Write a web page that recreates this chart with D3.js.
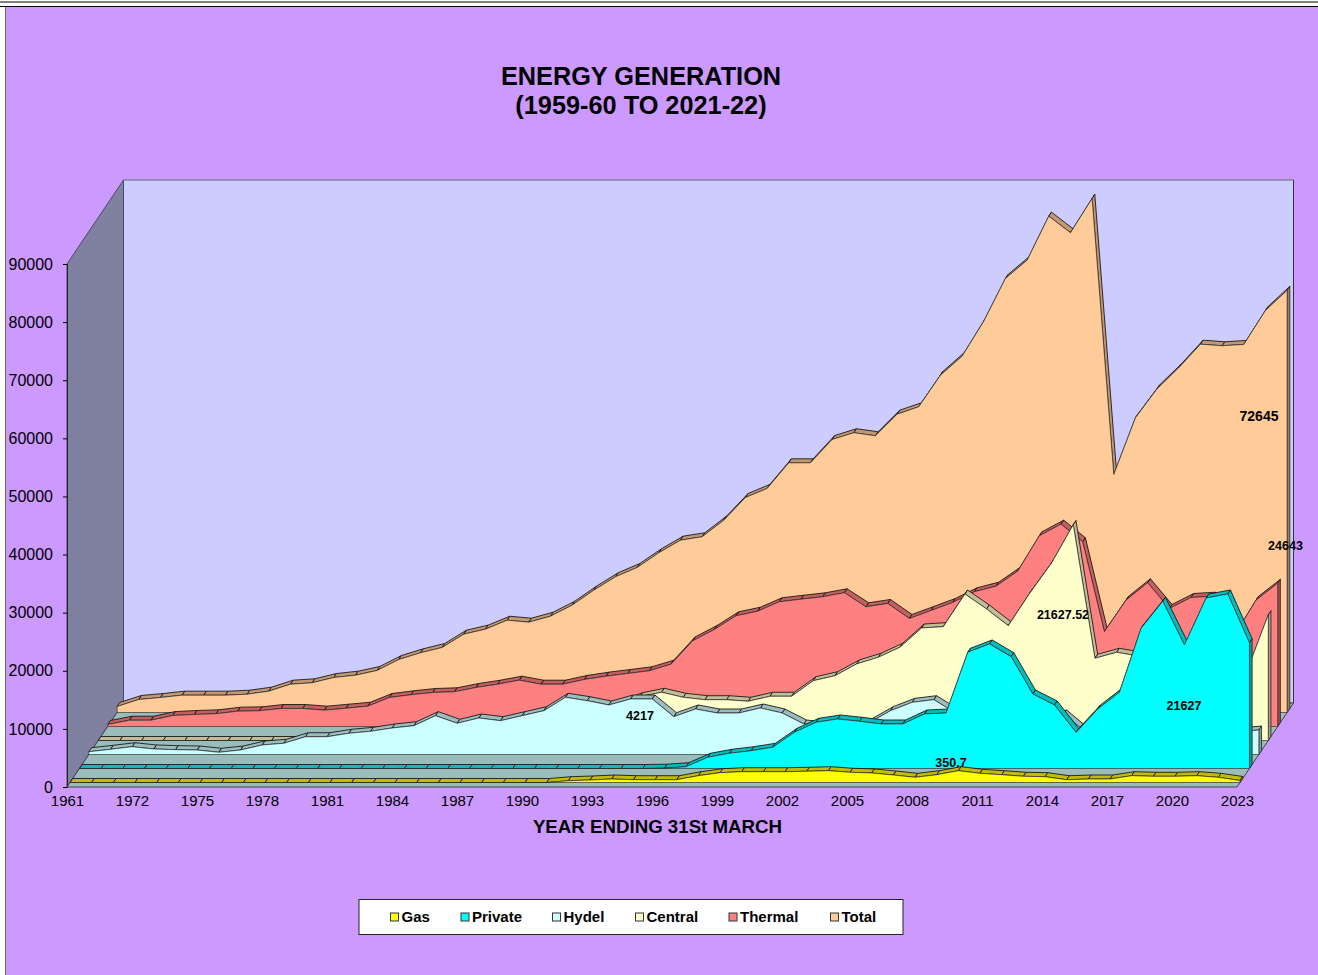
<!DOCTYPE html>
<html>
<head>
<meta charset="utf-8">
<style>
html,body{margin:0;padding:0;background:#fff;overflow:hidden}
svg{display:block}
text{font-family:"Liberation Sans",Arial,sans-serif;fill:#000}
</style>
<script src="https://cdnjs.cloudflare.com/ajax/libs/d3/7.8.5/d3.min.js"></script>
</head>
<body>
<svg id="c" width="1318" height="975"></svg>
<script>
const years = [1961,1970,1971,1972,1973,1974,1975,1976,1977,1978,1979,1980,1981,1982,1983,1984,1985,1986,1987,1988,1989,1990,1991,1992,1993,1994,1995,1996,1997,1998,1999,2000,2001,2002,2003,2004,2005,2006,2007,2008,2009,2010,2011,2012,2013,2014,2015,2016,2017,2018,2019,2020,2021,2022,2023];
const yearTicks = [1961,1972,1975,1978,1981,1984,1987,1990,1993,1996,1999,2002,2005,2008,2011,2014,2017,2020,2023];
const valueTicks = [0,10000,20000,30000,40000,50000,60000,70000,80000,90000];

const gas = [0,0,0,0,0,0,0,0,0,0,0,0,0,0,0,0,0,0,0,0,0,0,0,310,430,600,480,480,480,1170,1690,1860,1860,1860,1930,2030,1760,1640,1290,890,1340,2030,1580,1340,1070,1000,480,600,600,1170,1070,1070,1170,890,350.7];
const privateGen = [0,0,0,0,0,0,0,0,0,0,0,0,0,0,0,0,0,0,0,0,0,0,0,0,0,0,0,50,310,1930,2620,3060,3650,6230,7950,8520,8120,7660,7660,9380,9550,20000,21430,19240,12820,10930,6200,10240,13110,24130,28780,21250,29340,30030,21627];
const hydel = [480,890,1340,950,830,770,380,770,1640,1930,3060,3060,3650,3990,4560,4960,6680,5370,6280,5820,6680,7540,9840,9260,8520,9550,9550,6510,7830,7140,7140,8000,7140,5250,4800,4600,5420,7540,8980,9430,7140,6500,6300,6000,5800,6970,3870,3500,3600,3800,3900,4000,4100,3870,4217];
const central = [0,0,0,0,0,0,0,0,0,0,0,0,0,0,0,0,0,0,0,0,0,0,0,0,6100,7540,8300,7430,7020,7020,6750,7610,7610,10290,11150,13170,14320,16040,19360,19590,25210,22630,19760,25390,30550,37140,14150,15180,14540,13000,12500,11500,11000,11790,21627.52];
const thermal = [340,1080,1080,1890,2070,2190,2630,2700,3100,3100,2810,3150,3490,4990,5460,5850,5970,6710,7280,7970,7280,7280,8090,8660,9120,9590,10720,14750,16690,19050,19840,21460,21910,22320,23010,20600,21170,18590,19960,21340,23180,24150,26730,32820,34820,31790,16300,21740,24730,20310,22200,22420,15660,21740,24643];
const total = [1030,2240,2580,2980,2980,2980,3150,3670,4870,5110,6020,6420,7230,9120,10270,11190,13480,14340,15880,15540,16570,18470,21050,23350,24950,27480,29650,30240,33090,37000,38550,42970,42970,46980,48140,47620,51340,52610,58050,61320,67340,74690,77840,85410,82560,88460,40960,50720,55710,59320,63380,63110,63330,69180,72645];

const seriesNames = ["Gas","Private","Hydel","Central","Thermal","Total"];
const seriesValues = [gas,privateGen,hydel,central,thermal,total];
const seriesColors = ["#FFFF00","#00FFFF","#CCFFFF","#FFFFCC","#FF8080","#FFCC99"];
const pointLabels = ["350.7","21627","4217","21627.52","24643","72645"];
const titleLines = ["ENERGY GENERATION","(1959-60 TO 2021-22)"];
const xTitle = "YEAR ENDING 31St MARCH";

const svg = d3.select("#c");
const x = d3.scalePoint().domain(years).range([67,1237]);
const y = d3.scaleLinear().domain([0,90000]).range([787,264]);
const DX = 56.5, DY = 84;               // full floor depth
const off = d => [d*DX/DY, -d];         // depth projection
const P = (yr,v,d) => [x(yr)+off(d)[0], y(v)+off(d)[1]];
const line = d3.line();
const poly = p => line(p)+"Z";

// page frame
svg.append("rect").attr("x",6).attr("y",7).attr("width",1320).attr("height",975).attr("fill","#CC99FF");
svg.append("line").attr("x1",5.5).attr("x2",5.5).attr("y1",7).attr("y2",975).attr("stroke","#666").attr("stroke-width",1);
svg.append("line").attr("x1",0).attr("x2",1318).attr("y1",2).attr("y2",2).attr("stroke","#000").attr("stroke-width",1);
svg.append("line").attr("x1",0).attr("x2",1318).attr("y1",6.5).attr("y2",6.5).attr("stroke","#000").attr("stroke-width",1.2);

// walls and floor
const [x0,x1] = x.range(), yb = y(0), yt = y(90000);
svg.append("path").attr("d",poly([[x0+DX,yt-DY],[x1+DX,yt-DY],[x1+DX,yb-DY],[x0+DX,yb-DY]]))
   .attr("fill","#CCCCFF").attr("stroke","#666").attr("stroke-width",1);
svg.append("line").attr("x1",x1+DX).attr("x2",x1+DX).attr("y1",yt-DY).attr("y2",yb-DY).attr("stroke","#333").attr("stroke-width",1);
svg.append("path").attr("d",poly([[x0,yt],[x0+DX,yt-DY],[x0+DX,yb-DY],[x0,yb]]))
   .attr("fill","#8080A0").attr("stroke","#4a4a66").attr("stroke-width",1);
svg.append("path").attr("d",poly([[x0,yb],[x0+DX,yb-DY],[x1+DX,yb-DY],[x1,yb]]))
   .attr("fill","#9ABCBB").attr("stroke","#444").attr("stroke-width",1);

// series, back to front
const darken = c => { const r=d3.rgb(c); return d3.rgb(r.r*.76,r.g*.74,r.b*.74).formatHex(); };
const order = d3.range(seriesNames.length).reverse();
order.forEach(i=>{
  const vals = seriesValues[i], d1 = 4.5+14*i, d2 = d1+4;
  const g = svg.append("g").attr("class","series-"+seriesNames[i]);
  const rib = darken(seriesColors[i]);
  g.selectAll("path.rib").data(d3.pairs(d3.range(years.length))).join("path").attr("class","rib")
    .attr("d",([a,b])=>poly([P(years[a],vals[a],d1),P(years[b],vals[b],d1),P(years[b],vals[b],d2),P(years[a],vals[a],d2)]))
    .attr("fill",rib).attr("stroke","#111").attr("stroke-width",.85).attr("stroke-linejoin","round");
  const last = years.length-1;
  g.append("path").attr("d",poly([P(years[last],vals[last],d1),P(years[last],vals[last],d2),P(years[last],0,d2),P(years[last],0,d1)]))
    .attr("fill",d3.rgb(rib).darker(.5)).attr("stroke","#222").attr("stroke-width",.8);
  const top = years.map((yr,k)=>P(yr,vals[k],d1));
  g.append("path").attr("d",poly([...top,P(years[last],0,d1),P(years[0],0,d1)]))
    .attr("fill",seriesColors[i]).attr("stroke","#333").attr("stroke-width",.7).attr("stroke-linejoin","round");
});

// axes
const yAxis = d3.axisLeft(y).tickValues(valueTicks).tickFormat(d3.format("d")).tickSize(4).tickPadding(10);
const gy = svg.append("g").attr("transform",`translate(${x0},0)`).call(yAxis);
gy.select(".domain").attr("stroke","#222");
gy.selectAll("line").attr("stroke","#000");
gy.selectAll("text").style("font-size","16px");
const xAxis = d3.axisBottom(x).tickValues(yearTicks).tickFormat(d3.format("d")).tickSize(0).tickPadding(8);
const gx = svg.append("g").attr("transform",`translate(0,${yb})`).call(xAxis);
gx.select(".domain").remove();
gx.selectAll("text").style("font-size","15px");

// titles
svg.selectAll("text.title").data(titleLines).join("text").attr("class","title")
  .attr("x",641).attr("y",(d,i)=>85+i*29).attr("text-anchor","middle")
  .style("font-size","25.3px").style("font-weight","bold").text(d=>d);
svg.append("text").attr("x",657.5).attr("y",833).attr("text-anchor","middle")
  .style("font-size","18.7px").style("font-weight","bold").text(xTitle);

// data labels
const labelAt = [[951,767],[1184,709.5],[640,719.5],[1063,618.5],[1285.5,549.5],[1259,421]];
const labelSize = [12.5,12.5,12.5,12.5,12.5,14];
svg.selectAll("text.dl").data(pointLabels).join("text").attr("class","dl")
  .attr("x",(d,i)=>labelAt[i][0]).attr("y",(d,i)=>labelAt[i][1]).attr("text-anchor","middle")
  .style("font-size",(d,i)=>labelSize[i]+"px").style("font-weight","bold").text(d=>d);

// legend
svg.append("rect").attr("x",359).attr("y",899.5).attr("width",544).attr("height",35)
  .attr("fill","#fff").attr("stroke","#222").attr("stroke-width",1);
const swatchX = [390,460.5,552,635,728.5,830];
const lg = svg.selectAll("g.lg").data(seriesNames).join("g").attr("class","lg")
  .attr("transform",(d,i)=>`translate(${swatchX[i]},912.5)`);
lg.append("rect").attr("x",.5).attr("y",.5).attr("width",8).attr("height",8)
  .attr("fill",(d,i)=>seriesColors[i]).attr("stroke","#333").attr("stroke-width",1);
lg.append("text").attr("x",11.5).attr("y",9.3).style("font-size","15px").style("font-weight","bold").text(d=>d);
</script>
</body>
</html>
